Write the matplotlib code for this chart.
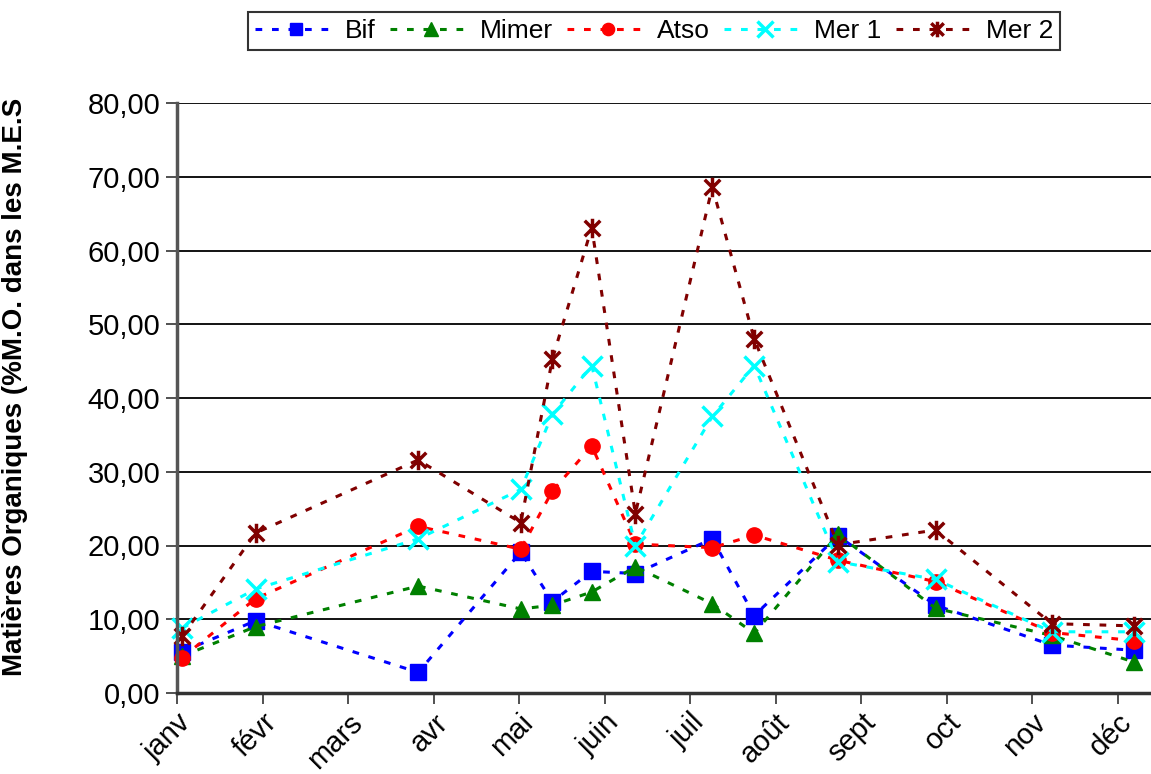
import matplotlib
matplotlib.use("Agg")
import matplotlib.pyplot as plt
from matplotlib.path import Path
import numpy as np

plt.rcParams['font.family'] = ['Liberation Sans', 'DejaVu Sans']

months = ["janv", "févr", "mars", "avr", "mai", "juin", "juil", "août",
          "sept", "oct", "nov", "déc"]
# sampling positions in month units (0 = 1 janv)
x_pos = [0.06, 0.92, 2.82, 4.02, 4.39, 4.85, 5.36, 6.26, 6.75, 7.73, 8.87, 10.23, 11.19]
bif = [5.6, 9.8, 2.8, 19.1, 12.4, 16.5, 16.2, 20.9, 10.5, 21.3, 11.9, 6.5, 5.8]
mimer = [5.0, 9.0, 14.5, 11.4, 11.9, 13.7, 17.1, 12.1, 8.1, 21.5, 11.5, 7.8, 4.2]
atso = [4.8, 12.8, 22.6, 19.5, 27.4, 33.5, 20.2, 19.7, 21.4, 18.0, 15.1, 8.2, 7.1]
mer1 = [8.8, 14.1, 20.9, 27.6, 37.8, 44.4, 20.0, 37.5, 44.4, 17.8, 15.4, 8.3, 8.3]
mer2 = [7.7, 21.7, 31.6, 23.1, 45.3, 63.1, 24.3, 68.6, 48.0, 20.1, 22.1, 9.4, 9.1]

star = Path([(-1, -1), (1, 1), (-1, 1), (1, -1), (0, -1.25), (0, 1.25)],
            [Path.MOVETO, Path.LINETO, Path.MOVETO, Path.LINETO, Path.MOVETO, Path.LINETO])

fig = plt.figure(figsize=(11.51, 7.74), dpi=100)
ax = fig.add_axes([177/1151, (774-693)/774, (1151-177)/1151, (693-103)/774])

series = [
    ("Bif", bif, "#0000FF", "s", 11, 1.0),
    ("Mimer", mimer, "#008000", "^", 12, 1.0),
    ("Atso", atso, "#FF0000", "o", 11, 1.0),
    ("Mer 1", mer1, "#00FFFF", "x", 14, 2.5),
    ("Mer 2", mer2, "#800000", star, 14, 2.5),
]
for name, vals, col, mk, ms, mew in series:
    ax.plot(x_pos, vals, linestyle=(0, (2.2, 3.2)), linewidth=2.2, color=col,
            marker=mk, markersize=ms, markeredgewidth=mew,
            markerfacecolor=col, markeredgecolor=col, label=name, clip_on=False)

ax.set_xlim(0, 11.39)
ax.set_ylim(0, 80)
ax.set_yticks(np.arange(0, 81, 10))
ax.set_yticklabels([f"{v:.2f}".replace(".", ",") for v in np.arange(0, 81, 10)], fontsize=21)
ax.set_xticks(range(len(months)))
ax.set_xticklabels(months, fontsize=21, rotation=45, ha="right", rotation_mode="anchor")
ax.tick_params(axis="x", length=8, width=1.2, color="#333333", pad=3)
ax.tick_params(axis="y", length=8, width=1.2, color="#333333", pad=4)
ax.grid(axis="y", color="black", linewidth=1.3)
ax.set_axisbelow(True)
for s in ["top", "right"]:
    ax.spines[s].set_visible(False)
ax.spines["left"].set_color("#555555")
ax.spines["left"].set_linewidth(2.5)
ax.spines["bottom"].set_color("#333333")
ax.spines["bottom"].set_linewidth(2.5)

ax.set_ylabel("Matières Organiques (%M.O. dans les M.E.S", fontsize=20,
              fontweight="bold")
ax.yaxis.set_label_coords(-0.153, 0.519)

leg = fig.legend(loc="center", bbox_to_anchor=(654/1151, 1 - 31/774), ncol=5,
                 fontsize=19, frameon=True, fancybox=False, edgecolor="black",
                 handlelength=3.1, columnspacing=0.55, handletextpad=0.3,
                 borderpad=0.25, markerscale=0.8)
leg.get_frame().set_linewidth(1.5)

fig.savefig("out.png", dpi=100)
